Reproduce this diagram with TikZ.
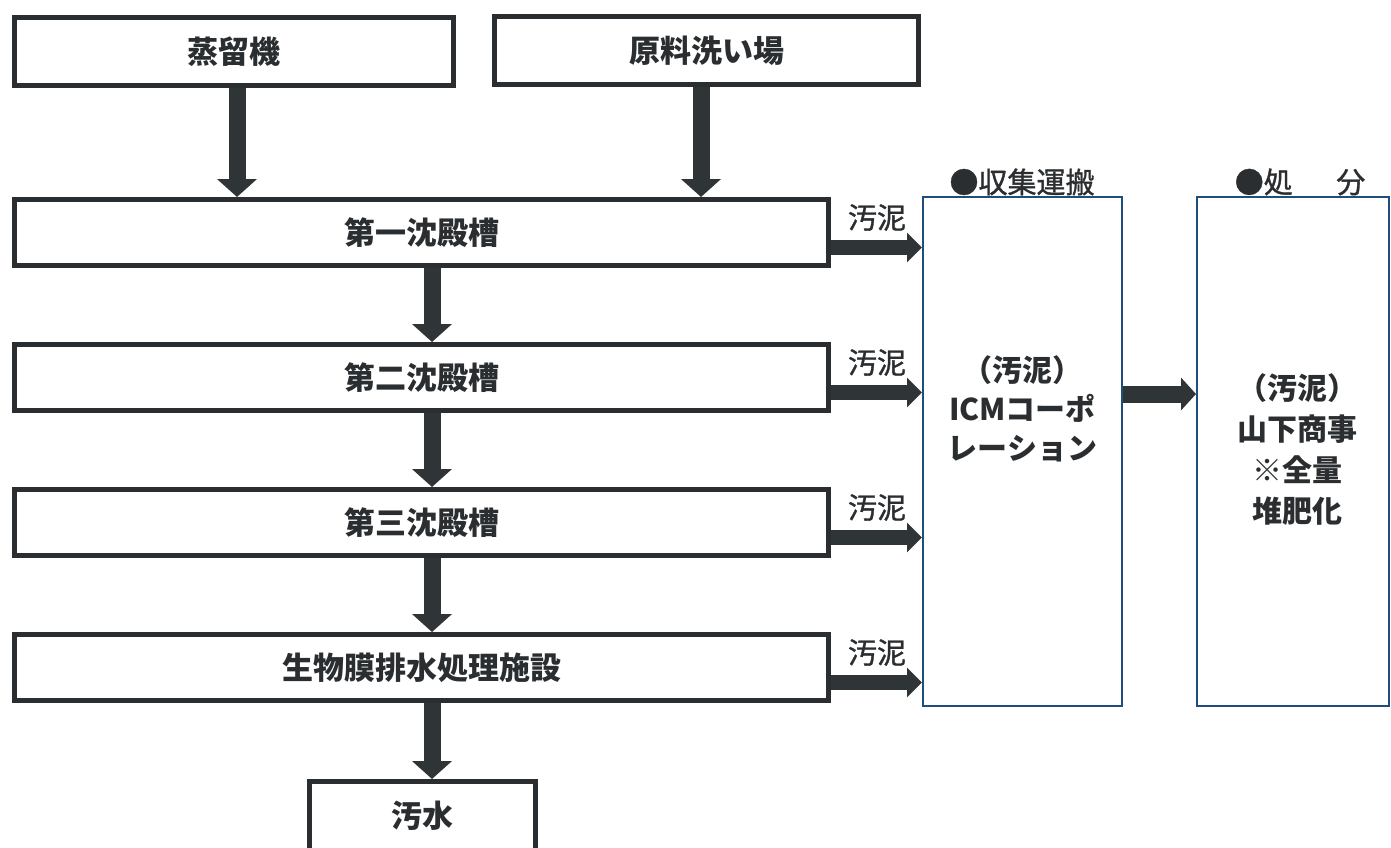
\documentclass[tikz,border=0pt]{standalone}
\usepackage{fontspec}
\setmainfont{Noto Sans CJK JP}
\newfontfamily\jpm{Noto Sans CJK JP}[FakeBold=1.2]
\usetikzlibrary{arrows.meta,calc}
\definecolor{ink}{HTML}{2B2E30}
\definecolor{arrowc}{HTML}{2F3537}
\definecolor{bluebox}{HTML}{1F4E7A}
\begin{document}
\begin{tikzpicture}[x=1pt,y=-1pt,
  box/.style={draw=ink, line width=5pt, rectangle, inner sep=0pt, fill=white, text=ink,
    font=\fontsize{31}{31}\selectfont\bfseries},
  bluerect/.style={draw=bluebox, line width=2pt, rectangle, inner sep=0pt, fill=white},
  lab/.style={text=ink, inner sep=0pt, font=\fontsize{29}{29}\selectfont\jpm},
  btext/.style={text=ink, inner sep=0pt, align=center},
  varrow/.style={draw=arrowc, line width=17pt, -{Triangle[width=39pt,length=18pt]}},
  harrow/.style={draw=arrowc, line width=15pt, -{Triangle[width=29pt,length=15pt]}},
  marrow/.style={draw=arrowc, line width=17pt, -{Triangle[width=32pt,length=15pt]}}
]
\path[use as bounding box, clip] (0,0) rectangle (1391,847);
\fill[white] (0,0) rectangle (1391,847);

% boxes
\node[box, minimum width=439pt, minimum height=68pt] (A) at (234,51.5) {蒸留機};
\node[box, minimum width=424pt, minimum height=68pt] (B) at (706.5,50.5) {原料洗い場};
\node[box, minimum width=814pt, minimum height=66pt] (C1) at (421.5,232.5) {第一沈殿槽};
\node[box, minimum width=814pt, minimum height=66pt] (C2) at (421.5,377.5) {第二沈殿槽};
\node[box, minimum width=814pt, minimum height=66pt] (C3) at (421.5,522.5) {第三沈殿槽};
\node[box, minimum width=814pt, minimum height=66pt] (C4) at (421.5,667.5) {生物膜排水処理施設};
\node[box, minimum width=226pt, minimum height=69pt] (D) at (422.5,816) {汚水};

\node[bluerect, minimum width=199pt, minimum height=509pt] (ICM) at (1022.5,451.5) {};
\node[btext, font=\fontsize{30}{39}\selectfont\bfseries] (ICMt) at (1022.5,409) {（汚泥）\\ICMコーポ\\レーション};
\node[bluerect, minimum width=192pt, minimum height=509pt] (Y) at (1293,451.5) {};
\node[btext, font=\fontsize{30}{41}\selectfont\bfseries] (Yt) at (1297,449) {（汚泥）\\山下商事\\※全量\\堆肥化};

\node[lab] (h1) at (1022,182) {●収集運搬};
\node[lab] (h2) at (1300,182) {●処\hspace{1.5em}分};

% vertical arrows
\coordinate (xa) at (237,0);
\coordinate (xb) at (701,0);
\coordinate (xc) at (432,0);
\draw[varrow] (A.south -| xa) -- (C1.north -| xa);
\draw[varrow] (B.south -| xb) -- (C1.north -| xb);
\draw[varrow] (C1.south -| xc) -- (C2.north -| xc);
\draw[varrow] (C2.south -| xc) -- (C3.north -| xc);
\draw[varrow] (C3.south -| xc) -- (C4.north -| xc);
\draw[varrow] (C4.south -| xc) -- (D.north -| xc);

% sludge arrows
\foreach \c/\i in {C1/1,C2/2,C3/3,C4/4}{
  \coordinate (s\i) at ([yshift=-15pt]\c.east);
  \draw[harrow] (s\i) -- (s\i -| ICM.west);
  \node[lab] (l\i) at ([xshift=46pt,yshift=30pt]s\i) {汚泥};
}
\coordinate (m) at ([yshift=57.5pt]ICM.east);
\draw[marrow] (m) -- (m -| Y.west);
\end{tikzpicture}
\end{document}
